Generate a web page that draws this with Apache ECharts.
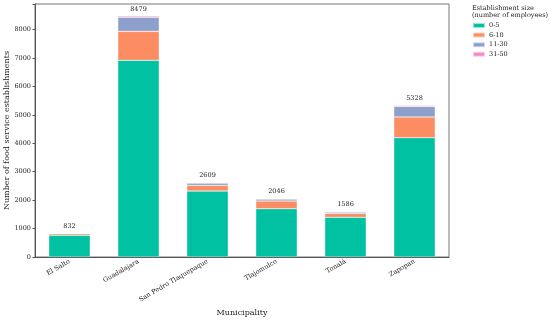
<!DOCTYPE html>
<html><head><meta charset="utf-8">
<script src="https://cdn.jsdelivr.net/npm/echarts@6/dist/echarts.min.js"></script>
<style>html,body{margin:0;padding:0;background:#fff}#c{width:550px;height:320px}</style>
</head><body><div id="c"></div>
<script>
const categories = ['El Salto','Guadalajara','San Pedro Tlaquepaque','Tlajomulco','Tonalá','Zapopan'];
const size0_5   = [762, 6920, 2320, 1700, 1395, 4200];
const size6_10  = [57, 1020, 200, 270, 140, 730];
const size11_30 = [10, 500, 80, 68, 45, 365];
const size31_50 = [3, 39, 9, 8, 6, 33];
const totals    = [832, 8479, 2609, 2046, 1586, 5328];
const seriesNames = ['0-5','6-10','11-30','31-50'];
const yTicks = [0,1000,2000,3000,4000,5000,6000,7000,8000];

const FONT = 'DejaVu Serif';
const colors = ['#00c2a2','#fc8d62','#8da0cb','#f78ac8'];
const chart = echarts.init(document.getElementById('c'));
const dataSets = [size0_5, size6_10, size11_30, size31_50];
const series = dataSets.map((d,i)=>({
  name: seriesNames[i], type:'bar', stack:'total', data:d, barWidth:'60%',
  itemStyle:{color:colors[i], borderColor:'rgba(255,255,255,0.6)', borderWidth:0.5},
  label: i===3 ? {show:true, position:'top', distance:3.5, fontFamily:FONT, fontSize:6.5, color:'#222',
    formatter:(p)=>String(totals[p.dataIndex])} : {show:false}
}));
chart.setOption({
  animation:false,
  color:colors,
  grid:{left:35, right:101, top:4, bottom:63, containLabel:false, outerBoundsMode:'none',
    show:true, borderColor:'#777', borderWidth:1},
  legend:{orient:'vertical', left:472, top:22, itemWidth:12, itemHeight:5, itemGap:2.6,
    icon:'rect', padding:0,
    textStyle:{fontFamily:FONT, fontSize:6.5, lineHeight:7, color:'#222', padding:[0,0,0,-1]},
    data:seriesNames},
  graphic:[{type:'text', left:472, top:4.5, style:{text:'Establishment size\n(number of employees)', font:'6.5px '+FONT, fill:'#222', lineHeight:7}}],
  xAxis:{type:'category', data:categories,
    name:'Municipality', nameLocation:'middle', nameGap:52, nameMoveOverlap:false,
    nameTextStyle:{fontFamily:FONT, fontSize:8, color:'#222'},
    axisLine:{lineStyle:{color:'#555'}}, axisTick:{alignWithLabel:true, length:2.5, lineStyle:{color:'#555'}},
    axisLabel:{rotate:30, fontFamily:FONT, fontSize:6.5, color:'#222', margin:4, interval:0}},
  yAxis:{type:'value', min:0, max:8903, interval:1000,
    name:'Number of food service establishments', nameLocation:'middle', nameGap:24, nameMoveOverlap:false,
    nameTextStyle:{fontFamily:FONT, fontSize:8, color:'#222'},
    splitLine:{show:false}, axisLine:{show:true, lineStyle:{color:'#555'}},
    axisTick:{show:true, length:2.5, lineStyle:{color:'#555'}},
    axisLabel:{fontFamily:FONT, fontSize:6.5, color:'#222', margin:4,
      formatter:(v)=> yTicks.includes(v) ? String(v) : ''}},
  series
});
</script></body></html>
